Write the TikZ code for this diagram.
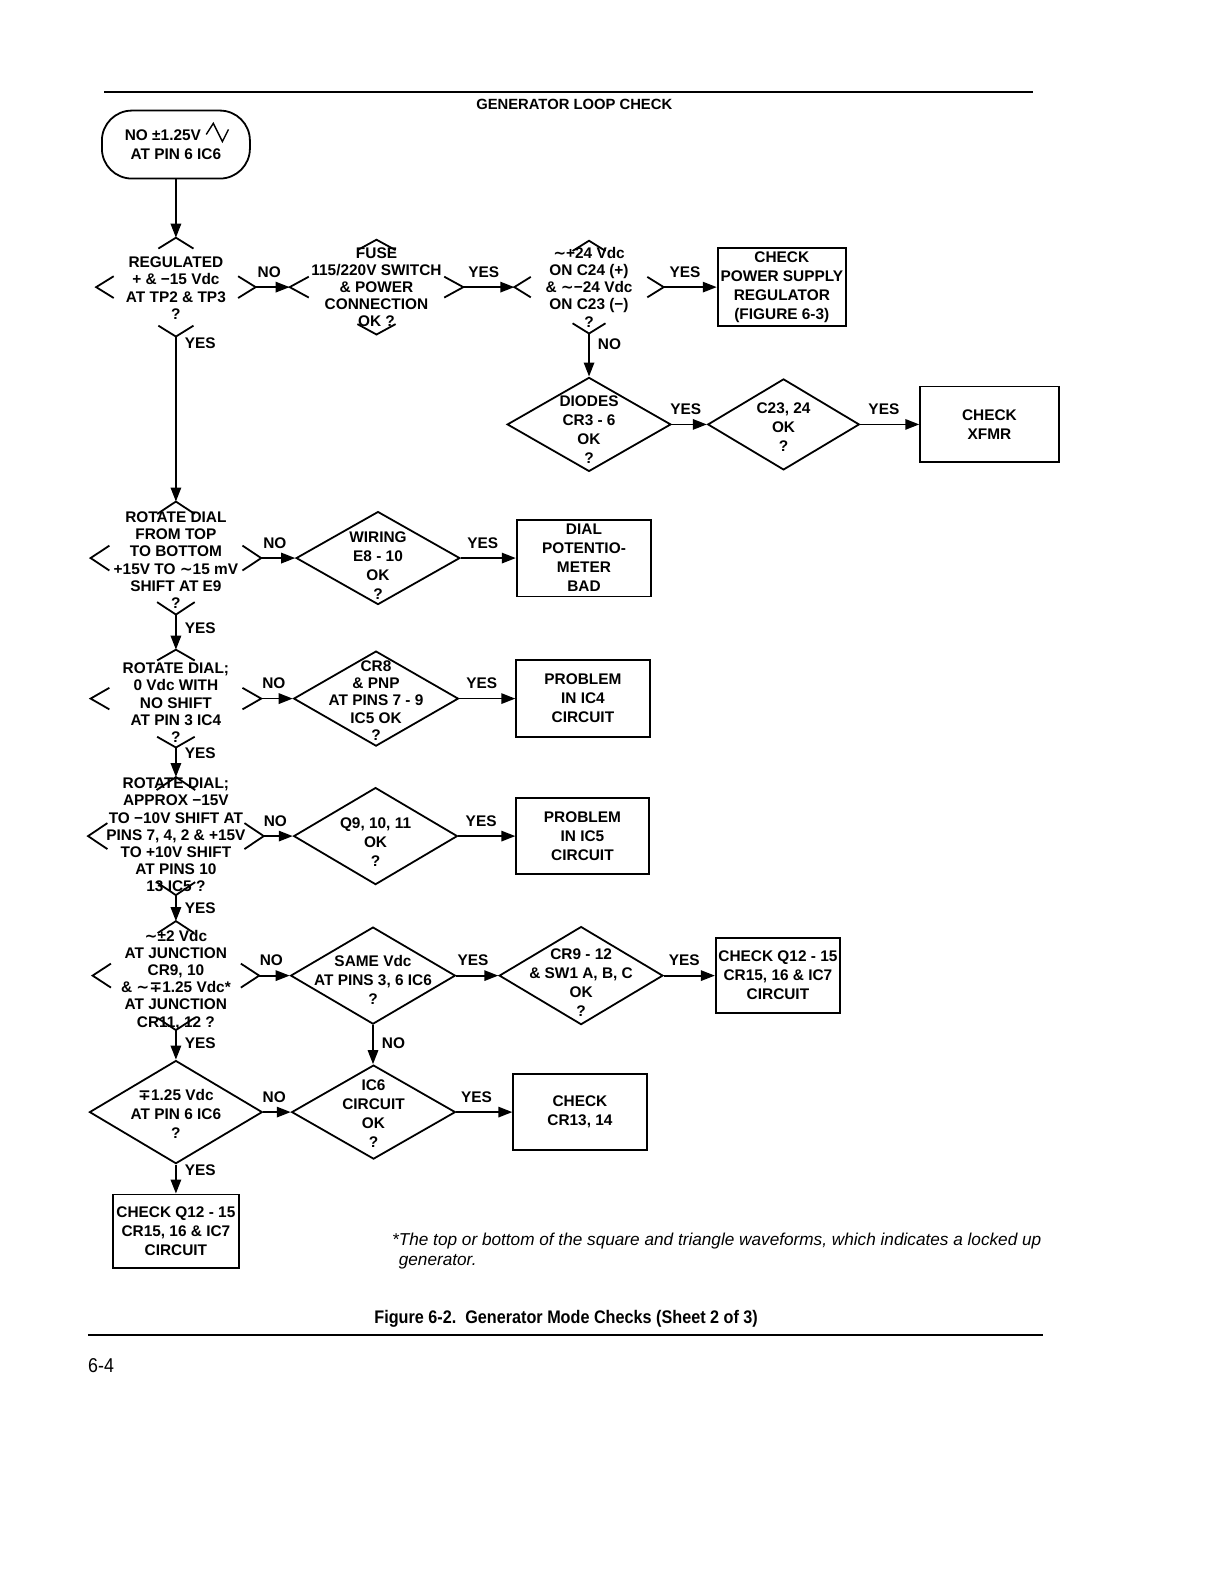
\documentclass[tikz,border=0pt]{standalone}
\usepackage{fontspec}
\setmainfont{Liberation Sans}
\newfontfamily\dvsans{DejaVu Sans}
\newfontfamily\figcapfont[FakeStretch=0.89]{Liberation Sans}
\usetikzlibrary{shapes.geometric,arrows.meta,positioning,calc}
\newcommand{\apx}{{\dvsans\char"223C}}
\newcommand{\mpm}{{\dvsans\char"2213}}

\begin{document}
\begin{tikzpicture}[
    x=0.5055pt, y=-0.5055pt,
    line width=0.9pt,
    >={Triangle[length=7pt,width=5.2pt]},
    txt/.style={font=\bfseries\fontsize{7.7}{9.5}\selectfont, align=center, inner sep=0pt},
    otxt/.style={font=\bfseries\fontsize{7.7}{8.6}\selectfont, align=center, inner sep=0pt},
    dia/.style 2 args={diamond, draw, inner sep=0pt, minimum width=#1*0.5055pt, minimum height=#2*0.5055pt},
    odia/.style 2 args={diamond, inner sep=0pt, minimum width=#1*0.5055pt, minimum height=#2*0.5055pt},
    box/.style 2 args={draw, txt, minimum width=#1*0.5055pt, minimum height=#2*0.5055pt},
    term/.style={draw, txt, rounded corners=15pt, minimum width=74pt, minimum height=34pt},
    arrow/.style={->},
    lbl/.style={txt},
    wave/.style={line width=0.7pt, line join=miter}
]
    \useasboundingbox (0pt,0pt) rectangle (612pt,-792pt);

    % Page furniture
    \draw (103,91) -- (1022,91);
    \node[font=\bfseries\fontsize{7.4}{9}\selectfont] (title) at (568,103) {GENERATOR LOOP CHECK};
    \draw[line width=1pt] (87,1320) -- (1032,1320);
    \node[font=\figcapfont\bfseries\fontsize{9.1}{11}\selectfont] (caption) at (560,1304) {Figure 6-2.\ \ Generator Mode Checks (Sheet 2 of 3)};
    \node[font=\figcapfont\fontsize{10}{12}\selectfont] (page) at (100,1351) {6-4};
    \node[anchor=west, align=left, inner sep=0pt, font=\itshape\fontsize{8.6}{10}\selectfont] (note) at (387,1237)
        {*The top or bottom of the square and triangle waveforms, which indicates a locked up\\\phantom{*}generator.};

    % Start
    \node[term] (start) at (174,143) {NO ±1.25V\makebox[13pt]{}\\AT PIN 6 IC6};
    \draw[wave] ($(start.center)+(30,-10)$) -- ++(7,-11) -- ++(9,18) -- ++(6,-12);

    % Row 1
    \node[odia={156}{96}] (reg) at (174,284) {};
    \node[odia={170}{92}, right=17pt of reg] (fuse) {};
    \node[odia={146}{90}, right=25.5pt of fuse] (volt) {};
    \node[box={127}{77}, right=26.5pt of volt] (psreg) {CHECK\\POWER SUPPLY\\REGULATOR\\(FIGURE 6-3)};
    \node[otxt] (reg-t) at ($(reg)+(0,1)$) {REGULATED\\+ \& −15 Vdc\\AT TP2 \& TP3\\?};
    \node[otxt] (fuse-t) at (fuse) {FUSE\\115/220V SWITCH\\\& POWER\\CONNECTION\\OK ?};
    \node[otxt] (volt-t) at (volt) {\apx+24 Vdc\\ON C24 (+)\\\& \apx−24 Vdc\\ON C23 (−)\\?};

    % Row 2
    \node[dia={162}{93}, below=21.5pt of volt] (diodes) {};
    \node[dia={150}{90}, right=17.5pt of diodes] (caps) {};
    \node[box={137}{75}, right=29.5pt of caps] (xfmr) {CHECK\\XFMR};
    \node[txt] (diodes-t) at ($(diodes)+(0,5)$) {DIODES\\CR3 - 6\\OK\\?};
    \node[txt] (caps-t) at ($(caps)+(0,3)$) {C23, 24\\OK\\?};

    % Row 3
    \node[odia={167}{110}] (rot) at (174,552) {};
    \node[dia={162}{92}, right=17pt of rot] (wiring) {};
    \node[box={133}{76}, right=27.5pt of wiring] (dialpot) {DIAL\\POTENTIO-\\METER\\BAD};
    \node[otxt] (rot-t) at ($(rot)+(0,2)$) {ROTATE DIAL\\FROM TOP\\TO BOTTOM\\+15V TO \apx15 mV\\SHIFT AT E9\\?};
    \node[txt] (wiring-t) at ($(wiring)+(0,7)$) {WIRING\\E8 - 10\\OK\\?};

    % Row 4
    \node[odia={167}{95}] (rotb) at (174,691) {};
    \node[dia={163}{94}, right=15.75pt of rotb] (crpnp) {};
    \node[box={132}{76}, right=28pt of crpnp] (icfour) {PROBLEM\\IN IC4\\CIRCUIT};
    \node[otxt] (rotb-t) at ($(rotb)+(0,4)$) {ROTATE DIAL;\\0 Vdc WITH\\NO SHIFT\\AT PIN 3 IC4\\?};
    \node[otxt] (crpnp-t) at ($(crpnp)+(0,2)$) {CR8\\\& PNP\\AT PINS 7 - 9\\IC5 OK\\?};

    % Row 5
    \node[odia={172}{115}] (rotc) at (174,827) {};
    \node[dia={162}{96}, right=14.5pt of rotc] (qnine) {};
    \node[box={131}{75}, right=28.5pt of qnine] (icfive) {PROBLEM\\IN IC5\\CIRCUIT};
    \node[otxt] (rotc-t) at ($(rotc)+(0,-1)$) {ROTATE DIAL;\\APPROX −15V\\TO −10V SHIFT AT\\PINS 7, 4, 2 \& +15V\\TO +10V SHIFT\\AT PINS 10\\13 IC5 ?};
    \node[txt] (qnine-t) at ($(qnine)+(0,6)$) {Q9, 10, 11\\OK\\?};

    % Row 6
    \node[odia={163}{106}] (junc) at (174,965) {};
    \node[dia={163}{96}, right=15.25pt of junc] (samevdc) {};
    \node[dia={162}{97}, right=21pt of samevdc] (crsw) {};
    \node[box={123}{74}, right=25.5pt of crsw] (qtwelve) {CHECK Q12 - 15\\CR15, 16 \& IC7\\CIRCUIT};
    \node[otxt] (junc-t) at ($(junc)+(0,4)$) {\apx±2 Vdc\\AT JUNCTION\\CR9, 10\\\& \apx\mpm1.25 Vdc*\\AT JUNCTION\\CR11, 12 ?};
    \node[txt] (samevdc-t) at ($(samevdc)+(0,4)$) {SAME Vdc\\AT PINS 3, 6 IC6\\?};
    \node[txt] (crsw-t) at ($(crsw)+(0,7)$) {CR9 - 12\\\& SW1 A, B, C\\OK\\?};

    % Row 7
    \node[dia={171}{102}] (pinsix) at (174,1100) {};
    \node[dia={162}{93}, right=13.75pt of pinsix] (icsix) {};
    \node[box={132}{75}, right=28pt of icsix] (crthirteen) {CHECK\\CR13, 14};
    \node[box={125}{73}, below=14.5pt of pinsix] (qtwelveb) {CHECK Q12 - 15\\CR15, 16 \& IC7\\CIRCUIT};
    \node[txt] (pinsix-t) at ($(pinsix)+(0,2)$) {\mpm1.25 Vdc\\AT PIN 6 IC6\\?};
    \node[txt] (icsix-t) at ($(icsix)+(0,2)$) {IC6\\CIRCUIT\\OK\\?};

    % Corner marks of the open decisions
    \foreach \d in {reg, fuse, volt, rot, rotb, rotc, junc}
        \foreach \c/\p/\q in {north/west/east, south/west/east, west/north/south, east/north/south}
            \draw ($(\d.\c)!0.22!(\d.\p)$) -- (\d.\c) -- ($(\d.\c)!0.22!(\d.\q)$);

    % Connectors across
    \foreach \from/\to/\lab in {
        reg/fuse/NO, fuse/volt/YES, volt/psreg/YES,
        diodes/caps/YES, caps/xfmr/YES,
        rot/wiring/NO, wiring/dialpot/YES,
        rotb/crpnp/NO, crpnp/icfour/YES,
        rotc/qnine/NO, qnine/icfive/YES,
        junc/samevdc/NO, samevdc/crsw/YES, crsw/qtwelve/YES,
        pinsix/icsix/NO, icsix/crthirteen/YES
    } {
        \draw[arrow] (\from.east) -- node[lbl, above=4.5pt, pos=0.4] {\lab} (\to.west);
    }

    % Connectors down
    \draw[arrow] (start.south) -- (start.south |- reg.north);
    \foreach \from/\to/\lab/\p in {
        reg/rot/YES/0.04, volt/diodes/NO/0.26, rot/rotb/YES/0.4,
        rotb/rotc/YES/0.2, rotc/junc/YES/0.5, junc/pinsix/YES/0.45,
        samevdc/icsix/NO/0.47, pinsix/qtwelveb/YES/0.2
    } {
        \draw[arrow] (\from.south) -- node[lbl, right=4pt, pos=\p] {\lab} (\from.south |- \to.north);
    }
\end{tikzpicture}
\end{document}
